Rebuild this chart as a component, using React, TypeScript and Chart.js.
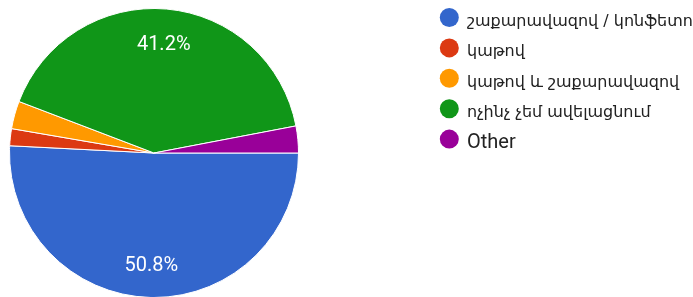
import React, { useEffect, useRef } from "react";
import { Chart, registerables } from "chart.js";

Chart.register(...registerables);

const categories = [
  "շաքարավազով / կոնֆետով",
  "կաթով",
  "կաթով և շաքարավազով",
  "ոչինչ չեմ ավելացնում",
  "Other",
];
const shares = [50.8, 1.9, 3.1, 41.2, 3.0];
const sliceColors = ["#3366cc", "#dc3912", "#ff9900", "#109618", "#990099"];

const FONT = "Roboto, 'DejaVu Sans', sans-serif";
const ARM_FONT = "'DejaVu Sans', sans-serif";

const sliceLabelPlugin = {
  id: "sliceLabels",
  afterDatasetsDraw(chart: any) {
    const ctx = chart.ctx;
    const meta = chart.getDatasetMeta(0);
    const data = chart.data.datasets[0].data as number[];
    const total = data.reduce((a, b) => a + b, 0);
    ctx.save();
    ctx.fillStyle = "#ffffff";
    ctx.font = `20px ${FONT}`;
    ctx.textAlign = "center";
    ctx.textBaseline = "alphabetic";
    meta.data.forEach((arc: any, i: number) => {
      const pct = (data[i] / total) * 100;
      if (pct < 5) return;
      const mid = (arc.startAngle + arc.endAngle) / 2;
      const r = arc.outerRadius * 0.765;
      const x = arc.x + Math.cos(mid) * r;
      const y = arc.y + Math.sin(mid) * r;
      ctx.fillText(pct.toFixed(1) + "%", x, y + 7);
    });
    ctx.restore();
  },
};

const legendPlugin = {
  id: "sideLegend",
  afterDraw(chart: any) {
    const ctx = chart.ctx;
    ctx.save();
    ctx.textAlign = "left";
    ctx.textBaseline = "alphabetic";
    categories.forEach((label, i) => {
      const cy = 17.5 + i * 30.4;
      ctx.beginPath();
      ctx.arc(449.3, cy, 9.5, 0, Math.PI * 2);
      ctx.fillStyle = sliceColors[i];
      ctx.fill();
      ctx.fillStyle = "#222222";
      const armenian = /[\u0530-\u058F]/.test(label);
      ctx.font = armenian ? `16px ${ARM_FONT}` : `20px ${FONT}`;
      ctx.fillText(label, 467, cy + 8.5);
    });
    ctx.restore();
  },
};

export default function App() {
  const canvasRef = useRef<HTMLCanvasElement | null>(null);

  useEffect(() => {
    if (!canvasRef.current) return;
    const chart = new Chart(canvasRef.current, {
      type: "pie",
      data: {
        labels: categories,
        datasets: [
          {
            data: shares,
            backgroundColor: sliceColors,
            borderColor: "#ffffff",
            borderWidth: 1,
          },
        ],
      },
      options: {
        responsive: false,
        animation: false,
        rotation: 90,
        layout: { padding: { left: 9, right: 394, top: 8, bottom: 4 } },
        plugins: {
          legend: { display: false },
          tooltip: { enabled: false },
        },
      },
      plugins: [sliceLabelPlugin, legendPlugin],
    });
    return () => chart.destroy();
  }, []);

  return (
    <div
      style={{
        position: "absolute",
        left: 0,
        top: 0,
        width: 693,
        height: 297,
        overflow: "hidden",
        background: "#ffffff",
      }}
    >
      <canvas
        ref={canvasRef}
        width={693}
        height={302}
        style={{ width: 693, height: 302, display: "block" }}
      />
    </div>
  );
}
